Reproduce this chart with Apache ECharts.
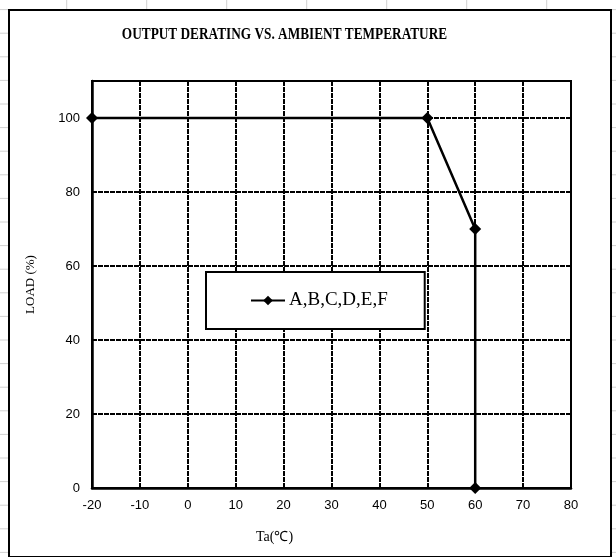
<!DOCTYPE html>
<html>
<head>
<meta charset="utf-8">
<script src="https://cdn.jsdelivr.net/npm/echarts@6/dist/echarts.min.js"></script>
<style>html,body{margin:0;padding:0;background:#fff}#c{width:616px;height:557px}</style>
</head>
<body>
<div id="c"></div>
<script>
var seriesName = 'A,B,C,D,E,F';
var temps = [-20, 50, 60, 60];
var loads = [100, 100, 70, 0];
var titleText = 'OUTPUT DERATING VS. AMBIENT TEMPERATURE';
var xName = 'Ta(\u2103)';
var yName = 'LOAD (%)';

var chart = echarts.init(document.getElementById('c'), null, {renderer: 'canvas'});

var deco = [];
for (var k = 0; k < 24; k++) {
  var yy = 9.6 + 23.6 * k;
  deco.push({type: 'line', silent: true, z: -10, shape: {x1: 0, y1: yy, x2: 9, y2: yy}, style: {stroke: '#d0d0d0', lineWidth: 1}});
  deco.push({type: 'line', silent: true, z: -10, shape: {x1: 611, y1: yy, x2: 616, y2: yy}, style: {stroke: '#d0d0d0', lineWidth: 1}});
}
for (var j = 0; j < 8; j++) {
  var xx = 66.7 + 80 * j;
  deco.push({type: 'line', silent: true, z: -10, shape: {x1: xx, y1: 0, x2: xx, y2: 9}, style: {stroke: '#d0d0d0', lineWidth: 1}});
}
deco.push({type: 'rect', silent: true, z: -5, shape: {x: 9, y: 10, width: 602, height: 547}, style: {fill: 'none', stroke: '#000', lineWidth: 2}});
deco.push({type: 'text', silent: true, z: 5, x: 284.5, y: 35, scaleX: 0.83, style: {text: titleText, textAlign: 'center', textVerticalAlign: 'middle', font: 'bold 16px "Liberation Serif", "Times New Roman", serif', fill: '#000'}});

var option = {
  animation: false,
  backgroundColor: '#fff',
  graphic: deco,
  grid: {left: 92, right: 45, top: 81, bottom: 69, show: true, borderColor: '#000', borderWidth: 2, backgroundColor: 'transparent'},
  legend: {
    data: [seriesName],
    left: 206, top: 272,
    padding: [19, 37, 19, 44],
    borderColor: '#000', borderWidth: 2,
    backgroundColor: '#fff',
    itemWidth: 34, itemHeight: 12, itemGap: 0,
    textStyle: {fontFamily: '"Liberation Serif", "Times New Roman", serif', fontSize: 19, color: '#000', padding: [0, 0, 0, -1]},
    z: 10
  },
  xAxis: {
    type: 'value', min: -20, max: 80, interval: 10,
    name: xName, nameLocation: 'middle', nameGap: 42,
    nameTextStyle: {fontFamily: '"Liberation Serif", "Times New Roman", serif', fontSize: 14, color: '#000', padding: [0, 114, 0, 0]},
    axisLine: {show: true, onZero: false, lineStyle: {color: '#000', width: 2.5}},
    axisTick: {show: false},
    axisLabel: {margin: 11, fontFamily: '"Liberation Sans", Arial, sans-serif', fontSize: 13, color: '#000'},
    splitLine: {show: true, lineStyle: {color: '#000', width: 2, type: [5, 1]}}
  },
  yAxis: {
    type: 'value', min: 0, max: 110, interval: 20,
    name: yName, nameLocation: 'middle', nameGap: 55, nameRotate: 90,
    nameTextStyle: {fontFamily: '"Liberation Serif", "Times New Roman", serif', fontSize: 13, color: '#000'},
    axisLine: {show: true, onZero: false, lineStyle: {color: '#000', width: 2.5}},
    axisTick: {show: false},
    axisLabel: {margin: 12, showMaxLabel: false, fontFamily: '"Liberation Sans", Arial, sans-serif', fontSize: 13, color: '#000',
      formatter: function (v) { return v > 100 ? '' : String(v); }},
    splitLine: {show: true, lineStyle: {color: '#000', width: 2, type: [5, 1]}}
  },
  series: [{
    name: seriesName,
    type: 'line',
    data: temps.map(function (t, i) { return [t, loads[i]]; }),
    symbol: 'diamond', symbolSize: 12,
    lineStyle: {color: '#000', width: 2.5},
    itemStyle: {color: '#000'},
    z: 5
  }]
};
chart.setOption(option);
</script>
</body>
</html>
